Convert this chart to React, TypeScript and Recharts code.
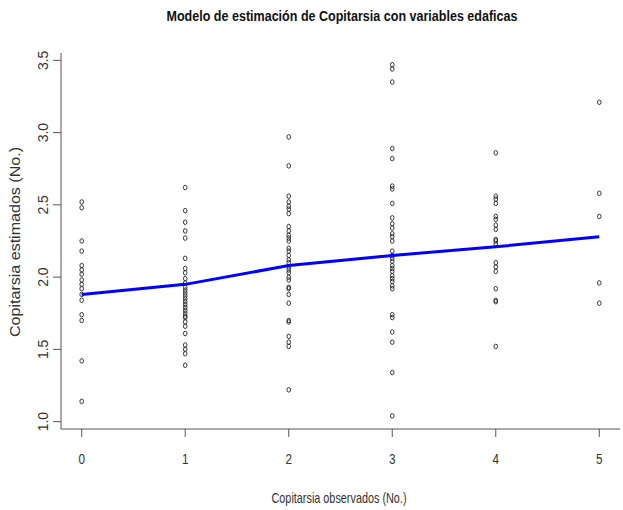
import React from "react";
import {
  ScatterChart,
  Scatter,
  XAxis,
  YAxis,
} from "recharts";

const observed = [0, 1, 2, 3, 4, 5];

const estimated0 = [2.52, 2.48, 2.25, 2.18, 2.08, 2.05, 2.02, 1.98, 1.95, 1.92, 1.88, 1.84, 1.74, 1.7, 1.42, 1.14];
const estimated1 = [
  2.62, 2.46, 2.38, 2.32, 2.27, 2.13, 2.06, 2.03, 1.99, 1.96, 1.93, 1.91, 1.89, 1.87, 1.85,
  1.83, 1.81, 1.79, 1.77, 1.75, 1.73, 1.72, 1.69, 1.66, 1.61, 1.53, 1.5, 1.47, 1.39,
];
const estimated2 = [
  2.97, 2.77, 2.56, 2.52, 2.49, 2.47, 2.44, 2.35, 2.32, 2.29, 2.27, 2.25, 2.2, 2.18, 2.15, 2.12,
  2.1, 2.07, 2.05, 2.03, 2.0, 1.98, 1.93, 1.92, 1.88, 1.82, 1.7, 1.69, 1.59, 1.55, 1.52, 1.22,
];
const estimated3 = [
  3.47, 3.44, 3.35, 2.89, 2.82, 2.63, 2.61, 2.51, 2.41, 2.37, 2.34, 2.3, 2.28, 2.25, 2.18, 2.15,
  2.13, 2.11, 2.08, 2.06, 2.04, 2.01, 1.99, 1.97, 1.94, 1.92, 1.74, 1.72, 1.62, 1.55, 1.34, 1.04,
];
const estimated4 = [2.86, 2.56, 2.54, 2.51, 2.42, 2.4, 2.36, 2.33, 2.26, 2.25, 2.23, 2.1, 2.07, 2.04, 1.92, 1.84, 1.83, 1.52];
const estimated5 = [3.21, 2.58, 2.42, 1.96, 1.82];

const fitted = [1.88, 1.95, 2.08, 2.15, 2.21, 2.28];

const xTicks = [0, 1, 2, 3, 4, 5];
const yTicks = [1.0, 1.5, 2.0, 2.5, 3.0, 3.5];

const estimatedByObserved = [estimated0, estimated1, estimated2, estimated3, estimated4, estimated5];

const points = observed.flatMap((obs, i) =>
  estimatedByObserved[i].map((est) => ({ obs, est }))
);
const fitLine = observed.map((obs, i) => ({ obs, est: fitted[i] }));

const axisColor = "#555";
const textColor = "#333";
const fontFamily = "'Liberation Sans Narrow', 'Arial Narrow', 'Liberation Sans', Arial, sans-serif";

function OpenCircle(props: any) {
  const { cx, cy } = props;
  if (cx == null || cy == null) return <g />;
  return (
    <ellipse
      cx={cx}
      cy={cy}
      rx={1.8}
      ry={2.3}
      fill="none"
      stroke="#222"
      strokeWidth={0.9}
    />
  );
}

function XTick(props: any) {
  const { x, y, payload } = props;
  return (
    <text
      x={x}
      y={y + 22}
      dy="0.35em"
      textAnchor="middle"
      fontSize={15}
      fill={textColor}
      fontFamily={fontFamily}
      transform={`translate(${x}, 0) scale(0.78, 1) translate(${-x}, 0)`}
    >
      {payload.value}
    </text>
  );
}

function YTick(props: any) {
  const { x, y, payload } = props;
  const tx = x - 10;
  return (
    <text
      x={tx}
      y={y}
      dy="0.35em"
      textAnchor="middle"
      fontSize={14}
      fill={textColor}
      fontFamily="'Liberation Sans', Arial, sans-serif"
      transform={`rotate(-90, ${tx}, ${y})`}
    >
      {Number(payload.value).toFixed(1)}
    </text>
  );
}

export default function App() {
  return (
    <div
      style={{
        position: "absolute",
        left: 0,
        top: 0,
        width: 623,
        height: 510,
        background: "#fff",
      }}
    >
      <ScatterChart
        width={623}
        height={510}
        margin={{ top: 53, right: 3, bottom: 0, left: 0 }}
      >
        <XAxis
          type="number"
          dataKey="obs"
          domain={[-0.2, 5.2]}
          ticks={xTicks}
          allowDataOverflow
          height={81}
          tickSize={8}
          tickMargin={0}
          tick={<XTick />}
          stroke={axisColor}
          tickLine={{ stroke: axisColor }}
          axisLine={{ stroke: axisColor }}
        />
        <XAxis
          xAxisId="top"
          orientation="top"
          type="number"
          domain={[0, 1]}
          height={0}
          tick={false}
          tickLine={false}
          axisLine={{ stroke: axisColor }}
        />
        <YAxis
          type="number"
          dataKey="est"
          domain={[0.949, 3.551]}
          ticks={yTicks}
          allowDataOverflow
          width={61}
          tickSize={8}
          tickMargin={0}
          tick={<YTick />}
          stroke={axisColor}
          tickLine={{ stroke: axisColor }}
          axisLine={{ stroke: axisColor }}
        />
        <YAxis
          yAxisId="right"
          orientation="right"
          type="number"
          domain={[0, 1]}
          width={0}
          tick={false}
          tickLine={false}
          axisLine={{ stroke: axisColor }}
        />
        <Scatter
          data={points}
          shape={<OpenCircle />}
          isAnimationActive={false}
        />
        <Scatter
          data={fitLine}
          line={{ stroke: "#0000ff", strokeWidth: 3 }}
          shape={() => <g />}
          isAnimationActive={false}
        />
      </ScatterChart>

      <svg
        width={623}
        height={510}
        style={{ position: "absolute", left: 0, top: 0, pointerEvents: "none" }}
      >
        <text
          x={342}
          y={20.5}
          textAnchor="middle"
          fontSize={15}
          fontWeight="bold"
          fill="#111"
          fontFamily={fontFamily}
          textLength={351}
          lengthAdjust="spacingAndGlyphs"
        >
          Modelo de estimación de Copitarsia con variables edaficas
        </text>
        <text
          x={339}
          y={502.5}
          textAnchor="middle"
          fontSize={15}
          fill={textColor}
          fontFamily={fontFamily}
          textLength={135}
          lengthAdjust="spacingAndGlyphs"
        >
          Copitarsia observados (No.)
        </text>
        <text
          x={15}
          y={242}
          dy="0.35em"
          textAnchor="middle"
          fontSize={14}
          fill={textColor}
          fontFamily="'Liberation Sans', Arial, sans-serif"
          textLength={190}
          lengthAdjust="spacingAndGlyphs"
          transform="rotate(-90, 15, 242)"
        >
          Copitarsia estimados (No.)
        </text>
      </svg>
    </div>
  );
}
